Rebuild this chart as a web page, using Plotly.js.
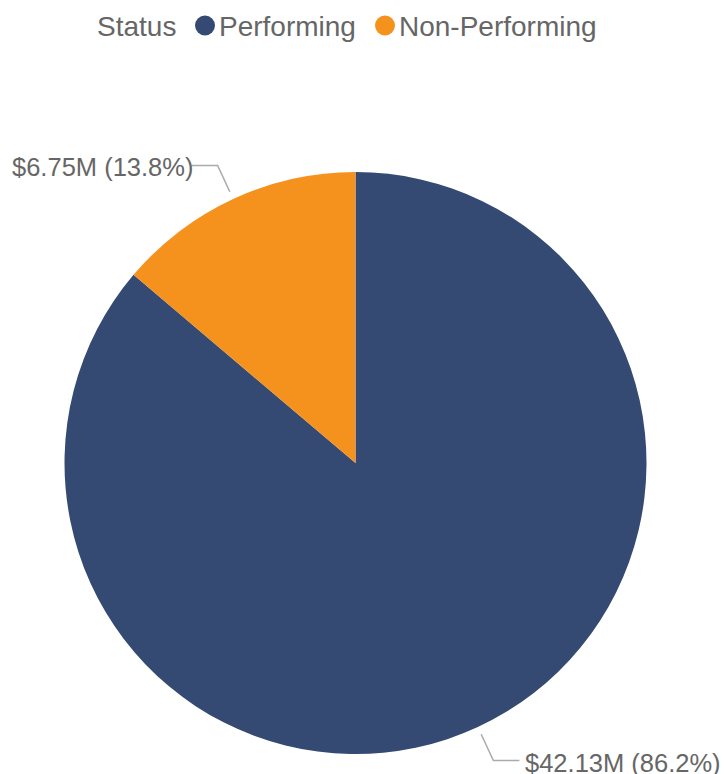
<!DOCTYPE html>
<html>
<head>
<meta charset="utf-8">
<script src="https://cdn.plot.ly/plotly-3.0.1.min.js"></script>
<style>html,body{margin:0;padding:0;background:#fff;}#chart{width:727px;height:774px;}</style>
</head>
<body>
<div id="chart"></div>
<script>
// Data
const categories = ["Performing", "Non-Performing"];
const values = [42.13, 6.75];           // $M
const colors = ["#344a72", "#f5921e"];
const legendTitle = "Status";

const W = 727, H = 774;
const margin = {l: 0, r: 16, t: 172, b: 20};
const pw = W - margin.l - margin.r, ph = H - margin.t - margin.b;
const R = Math.min(pw, ph) / 2;
const fontFam = "Liberation Sans, Arial, sans-serif";
const textColor = "#666666";

const total = values.reduce((a, b) => a + b, 0);
const fmtLabel = (v) => "$" + v.toFixed(2) + "M (" + (v / total * 100).toFixed(1) + "%)";
const pxX = (x) => (x - margin.l) / pw;
const pxY = (y) => (H - margin.b - y) / ph;

// leader lines + labels, positioned from the data angles (clockwise from 12 o'clock)
const shapes = [], annotations = [];
let cum = 0;
values.forEach((v, i) => {
  const mid = (cum + v / 2) / total * 2 * Math.PI;
  cum += v;
  const sx = Math.sin(mid), sy = -Math.cos(mid); // pixel direction (y down)
  const r1 = R + 8, r2 = R + 37, hlen = 26;
  const toPaper = (dx, dy) => [0.5 + dx / pw, 0.5 - dy / ph];
  const p1 = toPaper(sx * r1, sy * r1);
  const p2 = toPaper(sx * r2, sy * r2);
  const dir = sx >= 0 ? 1 : -1;
  const p3 = toPaper(sx * r2 + dir * hlen, sy * r2);
  shapes.push({
    type: "path", xref: "paper", yref: "paper",
    path: `M${p1[0]},${p1[1]} L${p2[0]},${p2[1]} L${p3[0]},${p3[1]}`,
    line: {color: "#aaaaaa", width: 1.5}
  });
  annotations.push({
    xref: "paper", yref: "paper", x: p3[0], y: p3[1],
    xanchor: dir > 0 ? "left" : "right", yanchor: "middle",
    xshift: dir > 0 ? 4 : 3, yshift: -2,
    text: fmtLabel(v), showarrow: false,
    font: {family: fontFam, size: 25.5, color: textColor}
  });
});

// legend (title, circle markers, item names) drawn at the top
const legendFont = {family: fontFam, size: 28, color: textColor};
const legendY = 25.5, legendTitleX = 95, markerX = [205, 385], markerR = 10, textGap = 12;
annotations.push({
  xref: "paper", yref: "paper", x: pxX(legendTitleX), y: pxY(legendY),
  xanchor: "left", yanchor: "middle", yshift: -1, showarrow: false,
  text: legendTitle, font: legendFont
});
categories.forEach((c, i) => {
  shapes.push({
    type: "circle", xref: "paper", yref: "paper",
    x0: pxX(markerX[i] - markerR), x1: pxX(markerX[i] + markerR),
    y0: pxY(legendY - markerR), y1: pxY(legendY + markerR),
    fillcolor: colors[i], line: {width: 0}
  });
  annotations.push({
    xref: "paper", yref: "paper", x: pxX(markerX[i] + textGap), y: pxY(legendY),
    xanchor: "left", yanchor: "middle", yshift: -1, showarrow: false,
    text: c, font: legendFont
  });
});

const traces = [{
  type: "pie", labels: categories, values: values,
  marker: {colors: colors, line: {width: 0}},
  sort: false, direction: "clockwise", rotation: 0,
  textinfo: "none", hoverinfo: "label+value+percent",
  showlegend: false, domain: {x: [0, 1], y: [0, 1]}
}];

const layout = {
  width: W, height: H, margin: margin,
  paper_bgcolor: "#fff", plot_bgcolor: "#fff",
  font: {family: fontFam, size: 26, color: textColor},
  showlegend: false,
  shapes: shapes, annotations: annotations
};

Plotly.newPlot("chart", traces, layout, {displayModeBar: false, staticPlot: true});
</script>
</body>
</html>
